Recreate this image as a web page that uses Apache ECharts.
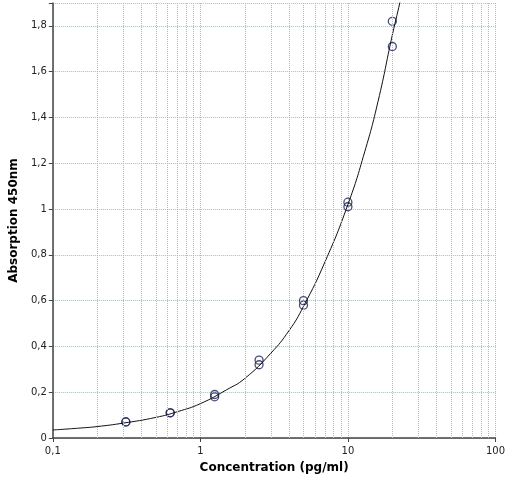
<!DOCTYPE html>
<html><head><meta charset="utf-8">
<script src="https://cdn.jsdelivr.net/npm/echarts@6/dist/echarts.min.js"></script>
<style>html,body{margin:0;padding:0;background:#fff}#c{width:508px;height:481px}</style>
</head><body><div id="c"></div>
<script>
const concentrations = [0.3125,0.3125,0.625,0.625,1.25,1.25,2.5,2.5,5,5,10,10,20,20];
const absorbances = [0.07,0.07,0.11,0.11,0.18,0.19,0.32,0.34,0.58,0.60,1.01,1.03,1.71,1.82];
const curveX = [0.1,0.15,0.2,0.3,0.5,0.7,1,1.5,2,3,4,5,7,10,13,16,20,23,25];
const curveY = [0.035,0.043,0.05,0.065,0.09,0.115,0.15,0.21,0.26,0.37,0.47,0.575,0.77,1.02,1.25,1.47,1.76,1.93,2.05];
const minorX = [0.2,0.3,0.4,0.5,0.6,0.7,0.8,0.9,2,3,4,5,6,7,8,9,20,30,40,50,60,70,80,90];
const yMax = 1.9;
const gridColor = '#8ec6cc';
const chart = echarts.init(document.getElementById('c'));
chart.setOption({
  animation:false,
  grid:{left:41,right:10,top:3,bottom:43},
  xAxis:{type:'log',min:0.1,max:100,logBase:10,
    name:'Concentration (pg/ml)',nameLocation:'middle',nameGap:24,
    nameTextStyle:{fontFamily:'DejaVu Sans',fontWeight:'bold',fontSize:12,color:'#000'},
    axisLine:{lineStyle:{color:'#444',width:1.5}},
    axisTick:{show:true,inside:false,length:4,lineStyle:{color:'#444'}},
    axisLabel:{fontFamily:'DejaVu Sans',fontSize:10,color:'#222',formatter:v=>String(v).replace('.',',')},
    splitLine:{show:true,lineStyle:{color:gridColor,type:'dotted'}}},
  yAxis:{type:'value',min:0,max:yMax,interval:0.2,
    name:'Absorption 450nm',nameLocation:'middle',nameGap:28,
    nameTextStyle:{fontFamily:'DejaVu Sans',fontWeight:'bold',fontSize:12,color:'#000'},
    axisLine:{show:true,lineStyle:{color:'#444',width:1.5}},
    axisTick:{show:true,length:4,lineStyle:{color:'#444'}},
    axisLabel:{fontFamily:'DejaVu Sans',fontSize:10,color:'#222',margin:6,
      formatter:v=>(v>1.85?'':String(Math.round(v*10)/10).replace('.',','))},
    splitLine:{show:true,lineStyle:{color:gridColor,type:'dotted'}}},
  series:[
    {type:'line',data:curveX.map((x,i)=>[x,curveY[i]]),smooth:true,showSymbol:false,
     lineStyle:{color:'#111',width:1},clip:true,
     markLine:{silent:true,symbol:'none',label:{show:false},
       lineStyle:{color:gridColor,type:'dotted',width:1},
       data:minorX.map(v=>({xAxis:v}))}},
    {type:'scatter',data:concentrations.map((x,i)=>[x,absorbances[i]]),symbol:'circle',symbolSize:8,
     itemStyle:{color:'rgba(255,255,255,0)',borderColor:'#1a1f5a',borderWidth:1.3}}
  ]
});
</script></body></html>
